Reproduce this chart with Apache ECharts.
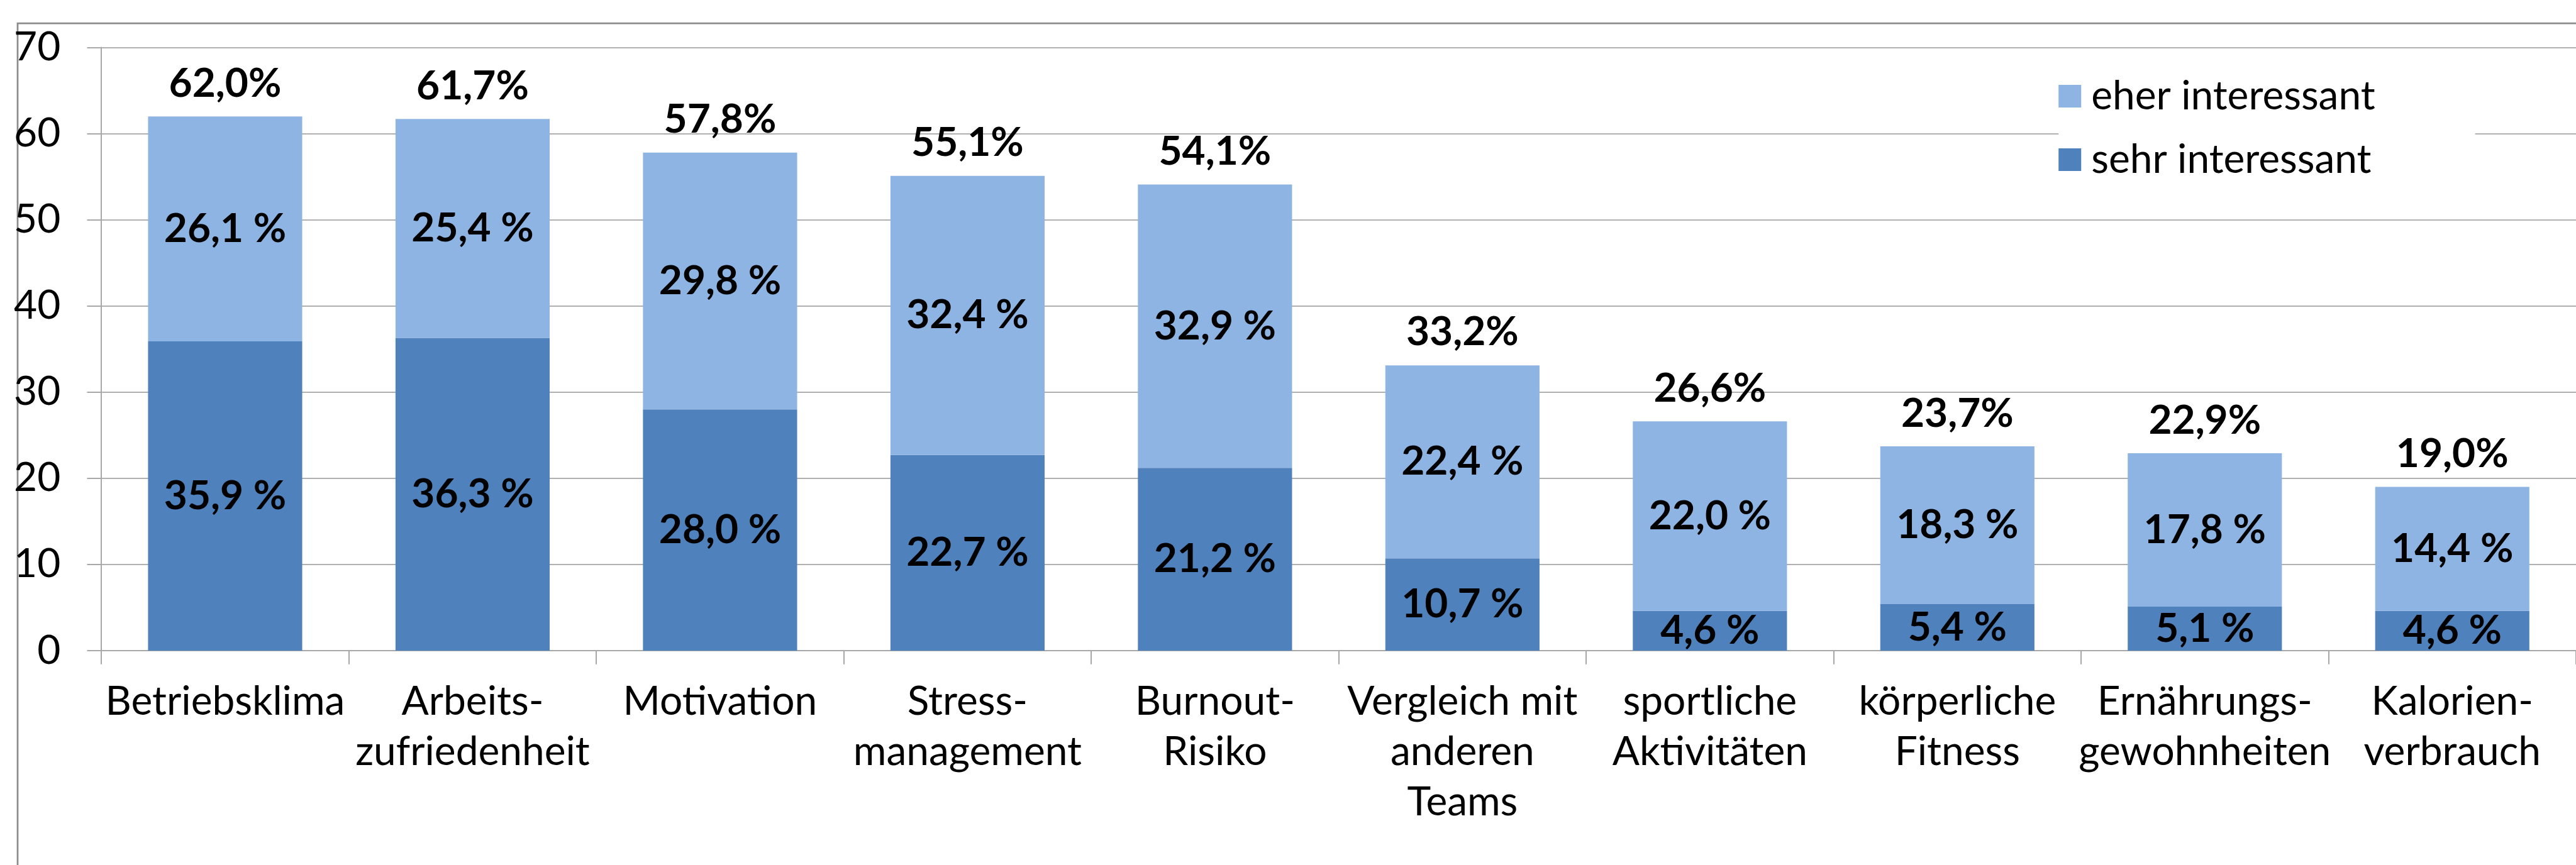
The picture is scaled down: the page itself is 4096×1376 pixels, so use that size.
<!DOCTYPE html>
<html>
<head>
<meta charset="utf-8">
<script src="https://cdn.jsdelivr.net/npm/echarts@6/dist/echarts.min.js"></script>
<style>
  html, body { margin: 0; padding: 0; background: #ffffff; }
  #chart { width: 4096px; height: 1376px; }
</style>
</head>
<body>
<div id="chart"></div>
<script>
// ---- data ----
const categories = [
  'Betriebsklima',
  'Arbeits-\nzufriedenheit',
  'Motivation',
  'Stress-\nmanagement',
  'Burnout-\nRisiko',
  'Vergleich mit\nanderen\nTeams',
  'sportliche\nAktivitäten',
  'körperliche\nFitness',
  'Ernährungs-\ngewohnheiten',
  'Kalorien-\nverbrauch'
];
const sehrInteressant = [35.9, 36.3, 28.0, 22.7, 21.2, 10.7, 4.6, 5.4, 5.1, 4.6];
const eherInteressant = [26.1, 25.4, 29.8, 32.4, 32.9, 22.4, 22.0, 18.3, 17.8, 14.4];
const totals = [62.0, 61.7, 57.8, 55.1, 54.1, 33.2, 26.6, 23.7, 22.9, 19.0];
const yTicks = { min: 0, max: 70, interval: 10 };
const seriesNames = ['sehr interessant', 'eher interessant'];

// ---- styling ----
const S = 0.911;
const FONT = 'Lato, "Open Sans", sans-serif';
const FS = 64;
const darkBlue = '#4F81BD';
const lightBlue = '#8EB4E3';
const gridColor = '#b0b0b0';
const fmtInner = v => v.toFixed(1).replace('.', ',') + ' %';
const fmtTotal = v => v.toFixed(1).replace('.', ',') + '%';

const chart = echarts.init(document.getElementById('chart'), null, { renderer: 'canvas' });

const innerLabel = {
  show: true,
  position: 'inside',
  fontFamily: FONT,
  fontWeight: 'bold',
  fontSize: FS,
  color: '#000',
  formatter: p => fmtInner(p.value)
};

chart.setOption({
  animation: false,
  backgroundColor: '#ffffff',
  textStyle: { fontFamily: FONT },
  graphic: [{
    type: 'rect',
    left: 28 * S, top: 38 * S,
    shape: { width: 5000, height: 2000 },
    style: { fill: 'none', stroke: '#8c8c8c', lineWidth: 3 * S },
    z: 0, silent: true
  }],
  grid: {
    left: 177 * S,
    top: 83 * S,
    width: 435.4 * 10 * S,
    height: (1136 - 83) * S
  },
  legend: {
    data: ['eher interessant', 'sehr interessant'],
    orient: 'vertical',
    left: 3593 * S,
    top: 112,
    itemWidth: 36,
    itemHeight: 36,
    itemGap: 35,
    icon: 'rect',
    backgroundColor: '#ffffff',
    padding: [8, 159, 8, 0],
    textStyle: {
      fontFamily: FONT, fontSize: FS, color: '#000',
      lineHeight: 66, padding: [0, 0, 0, 11]
    }
  },
  xAxis: {
    type: 'category',
    data: categories,
    axisLine: { lineStyle: { color: '#a8a8a8', width: 2 } },
    axisTick: { show: true, length: 24 * S, lineStyle: { color: '#a8a8a8', width: 2 } },
    axisLabel: {
      interval: 0,
      margin: 41,
      fontFamily: FONT,
      fontSize: FS,
      lineHeight: 88 * S,
      color: '#000'
    }
  },
  yAxis: {
    type: 'value',
    min: yTicks.min,
    max: yTicks.max,
    interval: yTicks.interval,
    axisLine: { show: true, lineStyle: { color: '#a8a8a8', width: 2 } },
    axisTick: { show: true, length: 25 * S, lineStyle: { color: '#a8a8a8', width: 2 } },
    splitLine: { lineStyle: { color: gridColor, width: 2 } },
    axisLabel: {
      margin: 65,
      fontFamily: FONT,
      fontSize: FS,
      color: '#000'
    }
  },
  series: [
    {
      name: seriesNames[0],
      type: 'bar',
      stack: 'total',
      barWidth: '62.3%',
      itemStyle: { color: darkBlue },
      label: innerLabel,
      data: sehrInteressant
    },
    {
      name: seriesNames[1],
      type: 'bar',
      stack: 'total',
      barWidth: '62.3%',
      itemStyle: { color: lightBlue },
      label: innerLabel,
      data: eherInteressant
    },
    {
      name: 'Summe',
      type: 'scatter',
      symbolSize: 0,
      silent: true,
      itemStyle: { opacity: 1, color: '#000' },
      label: {
        show: true,
        position: 'top',
        distance: 20,
        fontFamily: FONT,
        fontWeight: 'bold',
        fontSize: FS,
        color: '#000',
        opacity: 1,
        formatter: p => fmtTotal(p.value)
      },
      data: totals
    }
  ]
});
</script>
</body>
</html>
